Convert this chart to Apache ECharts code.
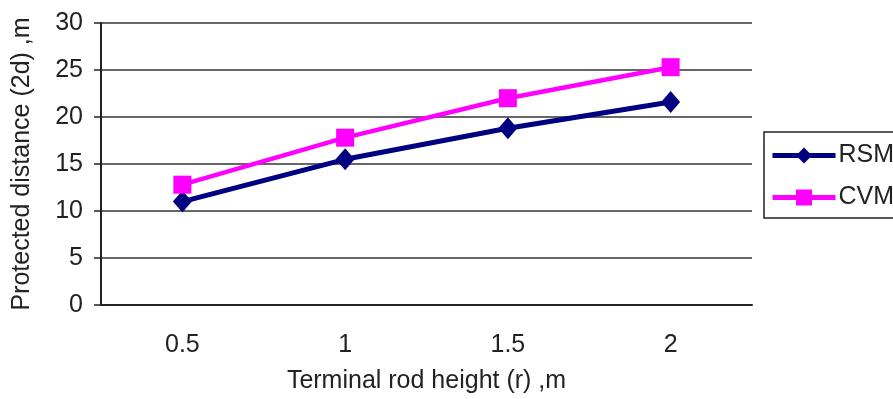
<!DOCTYPE html>
<html>
<head>
<meta charset="utf-8">
<script src="https://cdn.jsdelivr.net/npm/echarts@6/dist/echarts.min.js"></script>
<style>
html,body{margin:0;padding:0;background:#fff;}
#chart{width:893px;height:399px;}
</style>
</head>
<body>
<div id="chart"></div>
<script>
const categories = ['0.5', '1', '1.5', '2'];
const rsmValues = [11.0, 15.5, 18.8, 21.6];
const cvmValues = [12.8, 17.8, 22.0, 25.3];
const yTicks = [0, 5, 10, 15, 20, 25, 30];

const font = '"Liberation Sans", Arial, sans-serif';
const chart = echarts.init(document.getElementById('chart'));
chart.setOption({
  animation: false,
  backgroundColor: '#fff',
  textStyle: { fontFamily: font },
  grid: { left: 101, right: 141, top: 23, bottom: 92, containLabel: false },
  legend: {
    left: 764, top: 132, orient: 'vertical',
    padding: [11, 10, 8, 6],
    borderColor: '#222', borderWidth: 1.5,
    itemWidth: 63, itemHeight: 20, itemGap: 17,
    lineStyle: { width: 5 },
    textStyle: { fontSize: 25, color: '#222', fontFamily: font, padding: [0, 0, 0, -2] },
    data: ['RSM', 'CVM']
  },
  xAxis: {
    type: 'category', data: categories, boundaryGap: true,
    name: 'Terminal rod height (r) ,m', nameLocation: 'middle', nameGap: 64,
    nameTextStyle: { fontSize: 25, color: '#222', fontFamily: font },
    axisLine: { lineStyle: { color: '#222', width: 2 } },
    axisTick: { show: false },
    axisLabel: { fontSize: 25, color: '#222', margin: 28, fontFamily: font }
  },
  yAxis: {
    type: 'value', min: yTicks[0], max: yTicks[yTicks.length - 1], interval: 5,
    name: 'Protected distance (2d) ,m', nameLocation: 'middle', nameGap: 66,
    nameTextStyle: { fontSize: 25, color: '#222', fontFamily: font },
    axisLine: { show: true, lineStyle: { color: '#222', width: 2 } },
    axisTick: { show: true, length: 7, lineStyle: { color: '#222', width: 1.5 } },
    axisLabel: { fontSize: 25, color: '#222', margin: 18, fontFamily: font },
    splitLine: { lineStyle: { color: '#333', width: 1.5 } }
  },
  series: [
    {
      name: 'RSM', type: 'line', data: rsmValues,
      symbol: 'diamond', symbolSize: [19, 22],
      lineStyle: { color: '#000080', width: 5 },
      itemStyle: { color: '#000080' }
    },
    {
      name: 'CVM', type: 'line', data: cvmValues,
      symbol: 'rect', symbolSize: 18,
      lineStyle: { color: '#ff00ff', width: 4.5 },
      itemStyle: { color: '#ff00ff' }
    }
  ]
});
</script>
</body>
</html>
